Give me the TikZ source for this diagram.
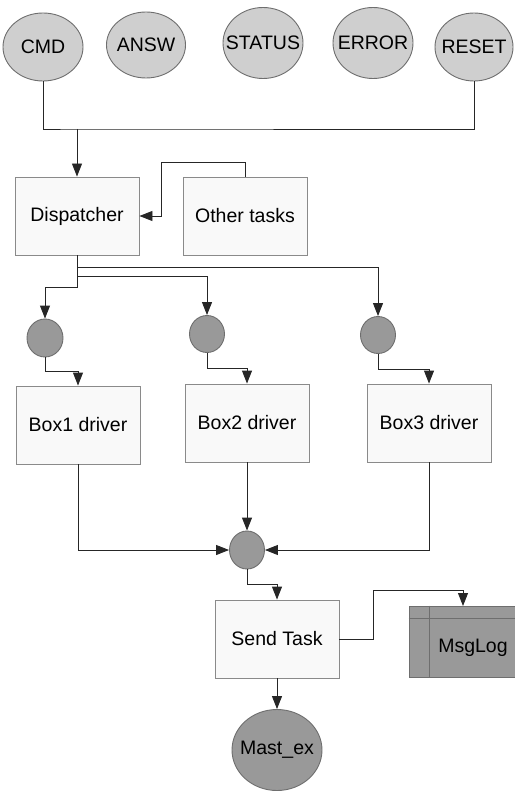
\documentclass[tikz,border=0pt]{standalone}
\usepackage{fontspec}
\setmainfont{Liberation Sans}
\usetikzlibrary{shapes.geometric,arrows.meta}
\definecolor{sigfill}{HTML}{CFCFCF}
\definecolor{dotfill}{HTML}{999999}
\definecolor{boxfill}{HTML}{F9F9F9}
\definecolor{edgegray}{HTML}{6E6E6E}
\definecolor{boxedge}{HTML}{8A8A8A}
\tikzset{
  sig/.style={ellipse, draw=edgegray, fill=sigfill, line width=0.9pt,
    minimum width=80pt, minimum height=68pt, inner sep=0pt},
  dot/.style={ellipse, draw=edgegray, fill=dotfill, line width=0.9pt,
    minimum width=36pt, minimum height=38pt, inner sep=0pt},
  taskbox/.style={rectangle, draw=boxedge, fill=boxfill, line width=0.9pt,
    minimum width=124pt, minimum height=78pt, inner sep=0pt},
  wire/.style={draw=black!85, line width=0.9pt},
  arr/.style={wire, -{Triangle[length=13pt,width=10pt]}},
}
\begin{document}
\begin{tikzpicture}[x=1pt,y=-1pt,font=\fontsize{19.5}{23}\selectfont]
\useasboundingbox (0,0) rectangle (514,791);

% input signals (labels placed separately so the ellipses keep their size)
\node[sig, label=center:CMD] (cmd) at (43,47) {};
\node[sig, minimum width=79pt, minimum height=66pt, label=center:ANSW] (answ) at (146,45) {};
\node[sig, minimum height=71pt, label=center:STATUS] (status) at (263,43) {};
\node[sig, minimum height=71pt, label=center:ERROR] (error) at (373,43) {};
\node[sig, minimum width=78pt, label=center:RESET] (reset) at (474,47) {};

% tasks
\node[taskbox] (disp) at (77,216) {Dispatcher};
\node[taskbox] (other) at (245,216) {Other tasks};

\node[dot] (c1) at (45,338) {};
\node[dot, minimum width=35pt, minimum height=37pt] (c2) at (207,334) {};
\node[dot, minimum width=35pt, minimum height=37pt] (c3) at (378,335) {};

\node[taskbox] (box1) at (78,425) {Box1 driver};
\node[taskbox] (box2) at (247,423) {Box2 driver};
\node[taskbox] (box3) at (429,423) {Box3 driver};

\node[dot, minimum width=35pt] (merge) at (247,550) {};

\node[taskbox] (send) at (277,639) {Send Task};

% message log store
\node[rectangle, draw=edgegray, fill=dotfill, line width=0.9pt,
  minimum width=128pt, minimum height=71pt, inner sep=0pt] (msg) at (473,641.5) {};
\draw[draw=edgegray, line width=0.9pt] (msg.north west) ++(0,13) -- ++(128,0);
\draw[draw=edgegray, line width=0.9pt] (msg.north west) ++(21,0) -- ++(0,71);
\node (msglabel) at (473,648) {MsgLog};

\node[ellipse, draw=edgegray, fill=dotfill, line width=0.9pt,
  minimum width=90pt, minimum height=81pt, inner sep=0pt,
  label=center:Mast\_ex] (mast) at (277,750) {};

% signal bus into the dispatcher
\coordinate (bus) at (77,129);
\draw[wire] (cmd.south) |- (bus) -| (reset.south);
\draw[arr] (bus) -- (disp.north);

% other tasks feed the dispatcher
\coordinate (otop) at (161,162);
\draw[arr] (other.north) |- (otop) |- (disp.east);

% dispatcher fan-out
\coordinate (f1) at (77,287);
\coordinate (f2) at (77,276);
\coordinate (f3) at (77,267);
\draw[arr] (disp.south) -- (f1) -| (c1.north);
\draw[arr] (f2) -| (c2.north);
\draw[arr] (f3) -| (c3.north);

% circles into drivers
\draw[arr] (c1.south) -- ++(0,14) -| (box1.north);
\draw[arr] (c2.south) -- ++(0,15) -| (box2.north);
\draw[arr] (c3.south) -- ++(0,15) -| (box3.north);

% drivers into the merge point
\draw[arr] (box1.south) |- (merge.west);
\draw[arr] (box2.south) -- (merge.north);
\draw[arr] (box3.south) |- (merge.east);

% merge into send task
\draw[arr] (merge.south) -- ++(0,15) -| (send.north);

% send task outputs
\coordinate (lup) at (373,590);
\coordinate (ldown) at (463,606);
\draw[arr] (send.east) -| (lup) -| (ldown);
\draw[arr] (send.south) -- (mast.north);
\end{tikzpicture}
\end{document}
